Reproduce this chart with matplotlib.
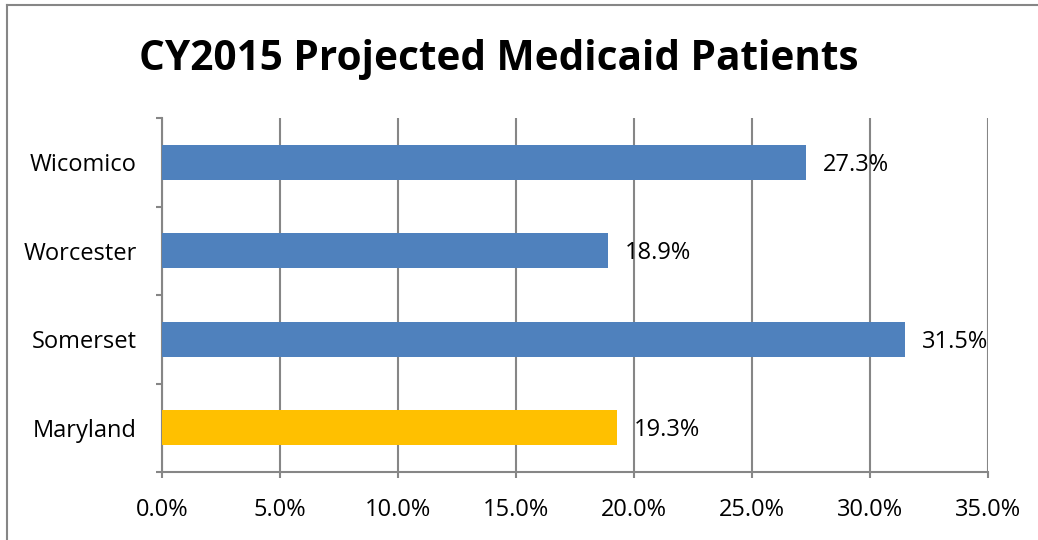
import numpy as np
import matplotlib.pyplot as plt
from matplotlib.lines import Line2D

# chart data (top to bottom)
categories = ['Wicomico', 'Worcester', 'Somerset', 'Maryland']
values = [27.3, 18.9, 31.5, 19.3]
colors = ['#4F81BD', '#4F81BD', '#4F81BD', '#FFC000']
xticks = [0, 5, 10, 15, 20, 25, 30, 35]

plt.rcParams['font.family'] = ['Open Sans', 'DejaVu Sans']
grid_col = '#868686'
fs = 17

fig = plt.figure(figsize=(10.38, 5.40), dpi=100)
ax = fig.add_axes([162/1038, 1 - 472/540, (988 - 162)/1038, (472 - 118)/540])

y = np.arange(len(categories))[::-1]
ax.barh(y, values, height=0.4, color=colors, zorder=3)
for yi, v in zip(y, values):
    ax.text(v + 0.7, yi - 0.03, '%.1f%%' % v, va='center', ha='left', fontsize=fs, color='black')

ax.set_xlim(0, 35)
ax.set_ylim(-0.5, len(categories) - 0.5)
ax.set_xticks(xticks)
ax.set_xticklabels(['%.1f%%' % t for t in xticks], fontsize=fs)
ax.set_yticks(y)
ax.set_yticklabels(categories, fontsize=fs)
ax.tick_params(axis='y', length=0, pad=18)
ax.tick_params(axis='x', length=4.5, width=1.5, color=grid_col, pad=14)
# category boundary ticks on the y axis
ax.set_yticks(np.arange(len(categories) + 1) - 0.5, minor=True)
ax.tick_params(axis='y', which='minor', length=4.5, width=1.5, color=grid_col)

ax.xaxis.grid(True, color=grid_col, linewidth=1.5, zorder=0)
ax.set_axisbelow(True)
for s in ['top', 'right']:
    ax.spines[s].set_visible(False)
for s in ['left', 'bottom']:
    ax.spines[s].set_color(grid_col)
    ax.spines[s].set_linewidth(1.5)

fig.text(499/1038, 1 - 59/540, 'CY2015 Projected Medicaid Patients',
         ha='center', va='center', fontsize=29.2, fontweight='bold')

# outer chart border (only top and left visible in the reference)
fig.add_artist(Line2D([7/1038, 7/1038], [0, 1 - 5/540], transform=fig.transFigure,
                      color=grid_col, linewidth=1.5))
fig.add_artist(Line2D([7/1038, 1], [1 - 5/540, 1 - 5/540], transform=fig.transFigure,
                      color=grid_col, linewidth=1.5))

fig.savefig('out.png', dpi=100)
